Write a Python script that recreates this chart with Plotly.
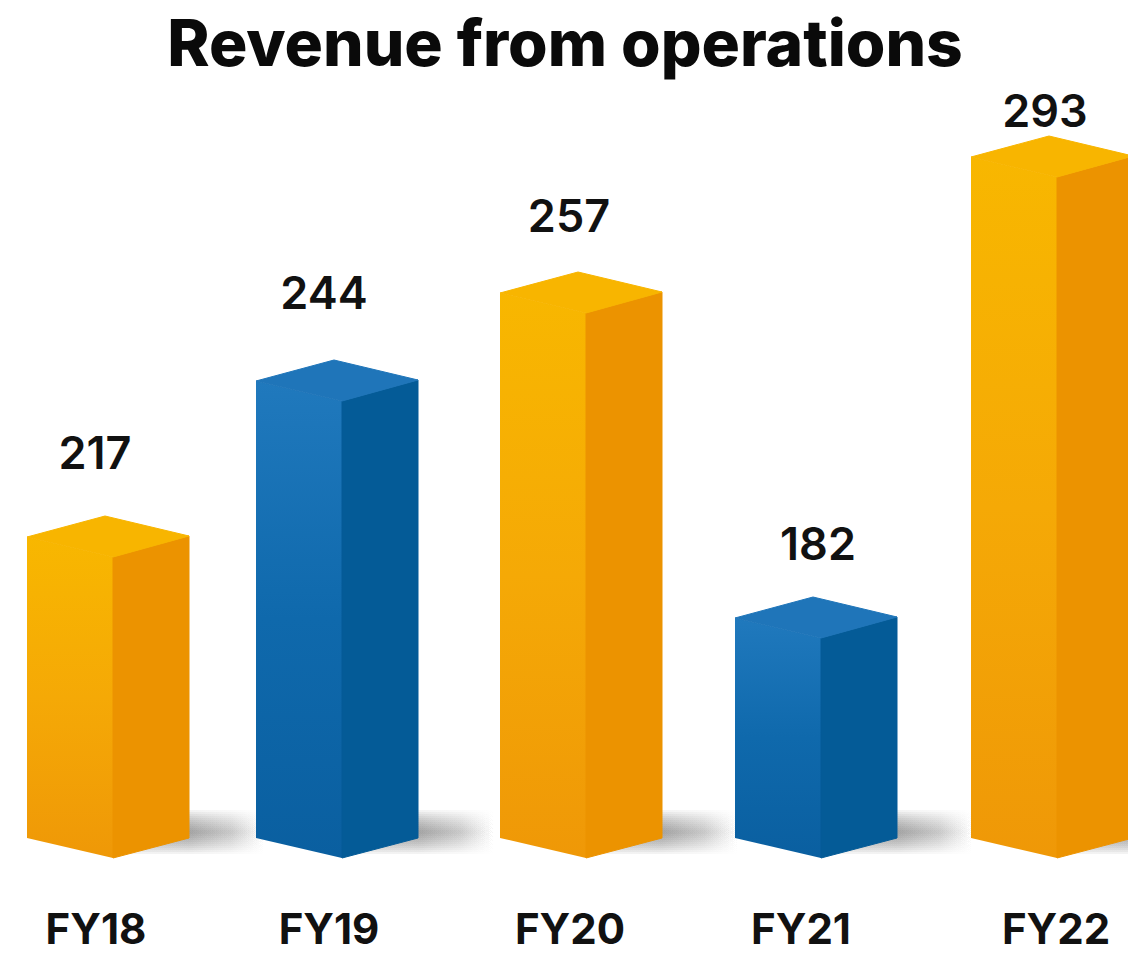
import plotly.graph_objects as go

# ---- data ----
categories = ["FY18", "FY19", "FY20", "FY21", "FY22"]
revenue = [217, 244, 257, 182, 293]          # printed labels
# The source's bars are not proportional to their labels, so the height each bar is drawn at is read separately.
drawn_height = [301, 457, 545, 220, 681]
palette_key = ["orange", "blue", "orange", "blue", "orange"]

# ---- layout and style ----
W, H = 1128, 955
SLOT = 236.0
FIRST_CENTRE = 108
BOTTOM = 54
BASE_PX = 838
px = lambda p: p / SLOT
bar_shift = [0, -7, 1, 0, 0]
tick_shift = [-12, -15, -10, -15, 4]
label_shift_x = [-13, -20, -11, 2, -7]
label_gap = [58, 62, 51, 48, 20]
FRONT_L, FRONT_R, SIDE_R = -81, 5, 81
APEX_X, APEX_UP, EDGE_DOWN = -3, 21, 20
STYLES = {
    "orange": dict(front=[[0, "#F8B700"], [0.5, "#F5A906"], [1, "#EF9807"]], side="#EC9300", top="#F8B500"),
    "blue": dict(front=[[0, "#2079BD"], [0.5, "#0F69AC"], [1, "#0A5FA0"]], side="#045B97", top="#1F75B9"),
}
INK = "#111111"
FONT = "Inter"
SHADOW_MID, SHADOW_REACH = 6, 76
SHADOW_HALF = [22, 20, 18, 16, 14, 12, 10, 8, 6, 4, 2]

fig = go.Figure()


def poly(xs, ys, edge=None, **kw):
    line = dict(width=1, color=edge) if edge else dict(width=0)
    fig.add_trace(go.Scatter(x=xs + xs[:1], y=ys + ys[:1], mode="lines", fill="toself",
                             line=line, hoverinfo="skip", showlegend=False, **kw))


# Ground shadows first, so the bars cover their inner ends
for i in range(len(categories)):
    c = i + px(bar_shift[i])
    r = c + px(SIDE_R)
    for half in SHADOW_HALF:
        poly([c, r + px(SHADOW_REACH), r + px(SHADOW_REACH), c],
             [SHADOW_MID + half, SHADOW_MID + half, SHADOW_MID - half, SHADOW_MID - half],
             fillgradient=dict(type="horizontal", start=r, stop=r + px(SHADOW_REACH),
                               colorscale=[[0, "rgba(110,110,110,0.085)"], [0.55, "rgba(130,130,130,0.05)"],
                                           [1, "rgba(160,160,160,0)"]]))

# Each bar: front face, side face, top face
for i, (h, key) in enumerate(zip(drawn_height, palette_key)):
    c = i + px(bar_shift[i])
    s = STYLES[key]
    lx, mx, rx, ax = c + px(FRONT_L), c + px(FRONT_R), c + px(SIDE_R), c + px(APEX_X)
    poly([lx, mx, mx, lx], [h, h - EDGE_DOWN, -EDGE_DOWN, 0],
         fillgradient=dict(type="vertical", start=h, stop=-EDGE_DOWN, colorscale=s["front"]))
    poly([mx, rx, rx, mx], [h - EDGE_DOWN, h + 1, 0, -EDGE_DOWN], fillcolor=s["side"], edge=s["side"])
    poly([lx, ax, rx, mx], [h, h + APEX_UP, h + 1, h - EDGE_DOWN], fillcolor=s["top"], edge=s["top"])

# Value labels
fig.add_trace(go.Scatter(
    x=[i + px(label_shift_x[i]) for i in range(len(categories))],
    y=[h + APEX_UP + g for h, g in zip(drawn_height, label_gap)],
    mode="text", text=[str(v) for v in revenue], textposition="middle center",
    textfont=dict(family=FONT, size=45, color=INK, weight=600),
    hoverinfo="skip", showlegend=False))

fig.update_layout(
    width=W, height=H, autosize=False,
    margin=dict(l=0, r=0, t=0, b=BOTTOM),
    paper_bgcolor="white", plot_bgcolor="white",
    title=dict(text="Revenue from operations", x=565 / W, xanchor="center", y=1 - 44 / H, yanchor="middle",
               font=dict(family=FONT, size=64, color="#0A0A0A", weight=800)),
    xaxis=dict(range=[-px(FIRST_CENTRE), px(W - FIRST_CENTRE)], automargin=False,
               tickmode="array", tickvals=[i + px(tick_shift[i]) for i in range(len(categories))],
               ticktext=categories, showgrid=False, zeroline=False, showline=False, ticks="",
               tickfont=dict(family=FONT, size=42, color=INK, weight=700)),
    yaxis=dict(range=[BASE_PX - (H - BOTTOM), BASE_PX], visible=False),
)

fig.write_html("out.html", post_script="document.body.style.margin='0';",
               config=dict(displayModeBar=False))
